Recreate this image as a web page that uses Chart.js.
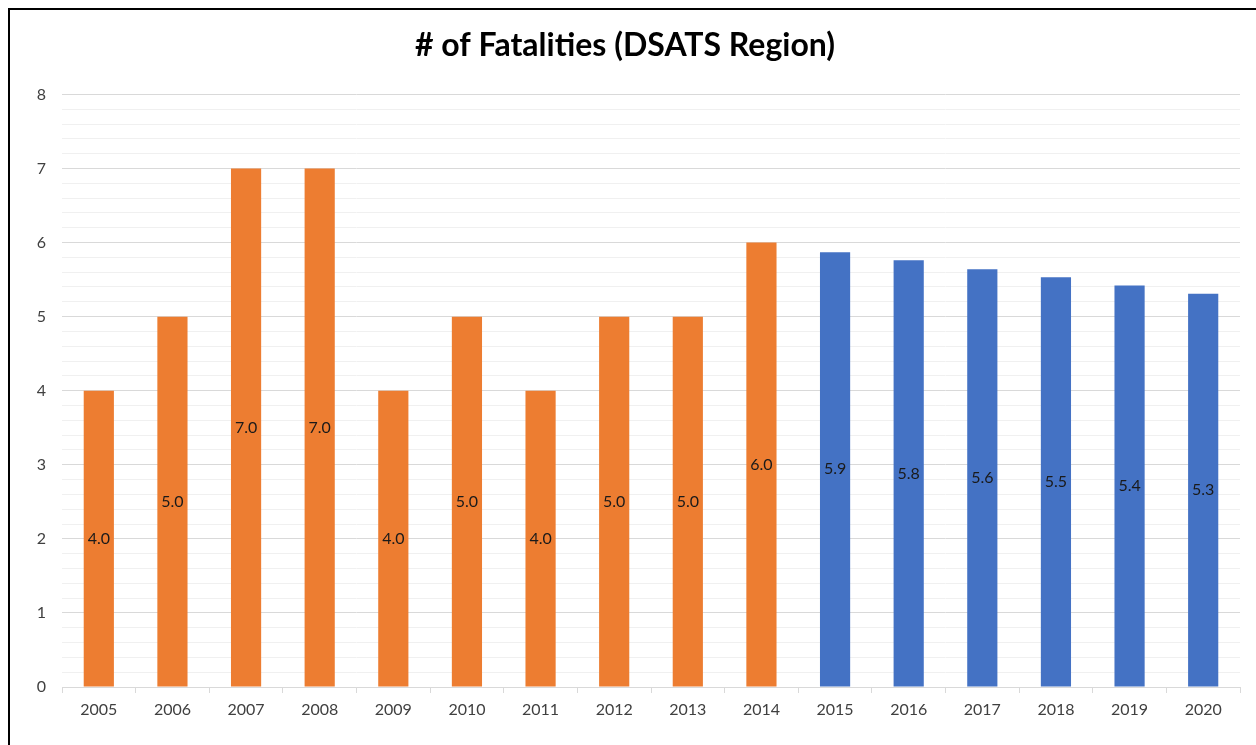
<!DOCTYPE html>
<html lang="en">
<head>
<meta charset="UTF-8" />
<script src="https://cdn.jsdelivr.net/npm/chart.js@4.4.1/dist/chart.umd.min.js"></script>
<style>
  html, body { margin: 0; padding: 0; background: #fff; }
  #wrap { position: relative; width: 1256px; height: 745px; overflow: hidden; }
  #frame { position: absolute; left: 8px; top: 8px; width: 1300px; height: 800px; border: 2px solid #000; box-sizing: border-box; pointer-events: none; }
  canvas { position: absolute; left: 0; top: 0; }
</style>
</head>
<body>
<div id="wrap">
  <canvas id="c" width="1256" height="745"></canvas>
  <div id="frame"></div>
</div>
<script>
const years = ['2005','2006','2007','2008','2009','2010','2011','2012','2013','2014','2015','2016','2017','2018','2019','2020']
const actual = [4, 5, 7, 7, 4, 5, 4, 5, 5, 6]
const projected = [5.87, 5.76, 5.64, 5.53, 5.42, 5.31]
const title = '# of Fatalities (DSATS Region)'

const orange = '#ED7D31'
const blue = '#4472C4'
const values = actual.concat(projected)
const colors = actual.map(() => orange).concat(projected.map(() => blue))

// value labels sit in the middle of each bar
const midLabels = {
	id: 'midLabels',
	afterDatasetsDraw(chart) {
		const ctx = chart.ctx
		const meta = chart.getDatasetMeta(0)
		ctx.save()
		ctx.font = '16px Lato'
		ctx.fillStyle = '#1a1a1a'
		ctx.textAlign = 'center'
		ctx.textBaseline = 'middle'
		meta.data.forEach((bar, i) => {
			const p = bar.getProps(['x', 'y', 'base'], true)
			ctx.fillText(values[i].toFixed(1), p.x, (p.y + p.base) / 2)
		})
		ctx.restore()
	},
}

new Chart(document.getElementById('c').getContext('2d'), {
	type: 'bar',
	data: {
		labels: years,
		datasets: [{
			data: values,
			backgroundColor: colors,
			borderWidth: 0,
			categoryPercentage: 1,
			barPercentage: 0.41,
		}],
	},
	options: {
		responsive: false,
		animation: false,
		layout: { padding: { left: 10, right: 16, top: 0, bottom: 0 } },
		plugins: {
			legend: { display: false },
			tooltip: { enabled: false },
			title: {
				display: true,
				text: title,
				color: '#000',
				font: { family: 'Lato', size: 32, weight: 'bold', lineHeight: 1.2 },
				padding: { top: 26, bottom: 30 },
			},
		},
		scales: {
			x: {
				grid: { display: true, drawOnChartArea: false, drawTicks: true, tickLength: 6, color: '#d9d9d9', offset: true },
				border: { display: true, color: '#d9d9d9' },
				ticks: { color: '#404040', font: { family: 'Lato', size: 16 }, padding: 7 },
				afterFit: (s) => { s.height = 58 },
			},
			y: {
				min: 0,
				max: 8,
				grid: {
					color: (c) => (Math.abs(c.tick.value - Math.round(c.tick.value)) < 1e-6 ? '#d9d9d9' : '#f0f0f0'),
					drawTicks: false,
				},
				border: { display: false },
				ticks: {
					stepSize: 0.2,
					autoSkip: false,
					padding: 16,
					color: '#404040',
					font: { family: 'Lato', size: 16 },
					callback: (v) => (Math.abs(v - Math.round(v)) < 1e-6 ? Math.round(v) : ''),
				},
				afterFit: (s) => { s.width = 52 },
			},
		},
	},
	plugins: [midLabels],
})
</script>
</body>
</html>
